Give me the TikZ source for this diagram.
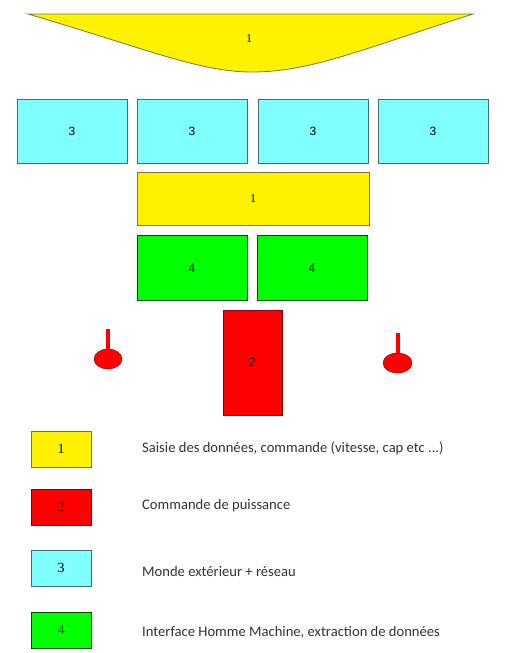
\documentclass[tikz,border=0pt]{standalone}
\usepackage{fontspec}
\setmainfont{Liberation Serif}
\newfontfamily\legfont{Carlito}
\newfontfamily\numfont{Liberation Sans}
\usetikzlibrary{shapes.geometric}
\begin{document}
\begin{tikzpicture}[x=1pt,y=-1pt,
  box/.style={shape=rectangle, draw, line width=0.8pt, inner sep=0pt, font=\numfont\fontsize{12}{14}\selectfont},
  jaune/.style={box, fill=yellow, draw=yellow!40!black},
  cyan3/.style={box, fill=cyanmonde, draw=cyanbord, minimum width=110, minimum height=64},
  vert/.style={box, fill=green, draw=green!30!black, minimum width=110, minimum height=65},
  rouge/.style={box, fill=red, draw=red!50!black},
  legende/.style={box, minimum width=60, minimum height=36, font=\fontsize{14}{16}\selectfont},
  texte/.style={anchor=west, inner sep=0pt, text=black!80, font=\legfont\fontsize{14.6}{17}\selectfont}]
\definecolor{cyanmonde}{HTML}{80FFFF}
\definecolor{cyanbord}{HTML}{3F6F78}
\useasboundingbox (0,0) rectangle (509,653);

% calotte du haut
\draw [fill=yellow, draw=yellow!40!black, line width=0.8pt]
  (28,14) .. controls (150,50) and (200,72) .. (252,72)
  .. controls (310,72) and (360,50) .. (473,14) -- cycle;
\node (haut) at (249,39) [font=\fontsize{12}{14}\selectfont] {1};

% monde exterieur
\node (m1) at (72,131) [cyan3] {3};
\node (m2) at (192,131) [cyan3] {3};
\node (m3) at (313,131) [cyan3] {3};
\node (m4) at (433,131) [cyan3] {3};

\node (saisie) at (253,198.5) [jaune, minimum width=232, minimum height=53, font=\fontsize{12}{14}\selectfont] {1};

\node (ihm1) at (192,268) [vert] {4};
\node (ihm2) at (312,268) [vert] {4};

\node (puiss) at (252.5,362.5) [rouge, minimum width=59, minimum height=105] {2};

% roues
\fill [red] (106,329) rectangle (110,352);
\node (roueg) at (108,359) [shape=ellipse, fill=red, draw=red!50!black, minimum width=28, minimum height=20, inner sep=0pt] {};
\fill [red] (395.5,333) rectangle (399.5,356);
\node (roued) at (397.5,363) [shape=ellipse, fill=red, draw=red!50!black, minimum width=29, minimum height=20, inner sep=0pt] {};

% legende
\node (l1) at (61,449) [legende, fill=yellow, draw=yellow!40!black] {1};
\node (l2) at (61,507) [legende, fill=red, draw=red!50!black, text=red!60!black] {2};
\node (l3) at (61,568) [legende, fill=cyanmonde, draw=cyanbord] {3};
\node (l4) at (61,630) [legende, fill=green, draw=green!30!black, text=green!40!black] {4};

\node (t1) at (142,448) [texte] {Saisie des données, commande (vitesse, cap etc ...)};
\node (t2) at (142,506) [texte] {Commande de puissance};
\node (t3) at (142,571) [texte] {Monde extérieur + réseau};
\node (t4) at (142,632) [texte] {Interface Homme Machine, extraction de données};
\end{tikzpicture}
\end{document}
